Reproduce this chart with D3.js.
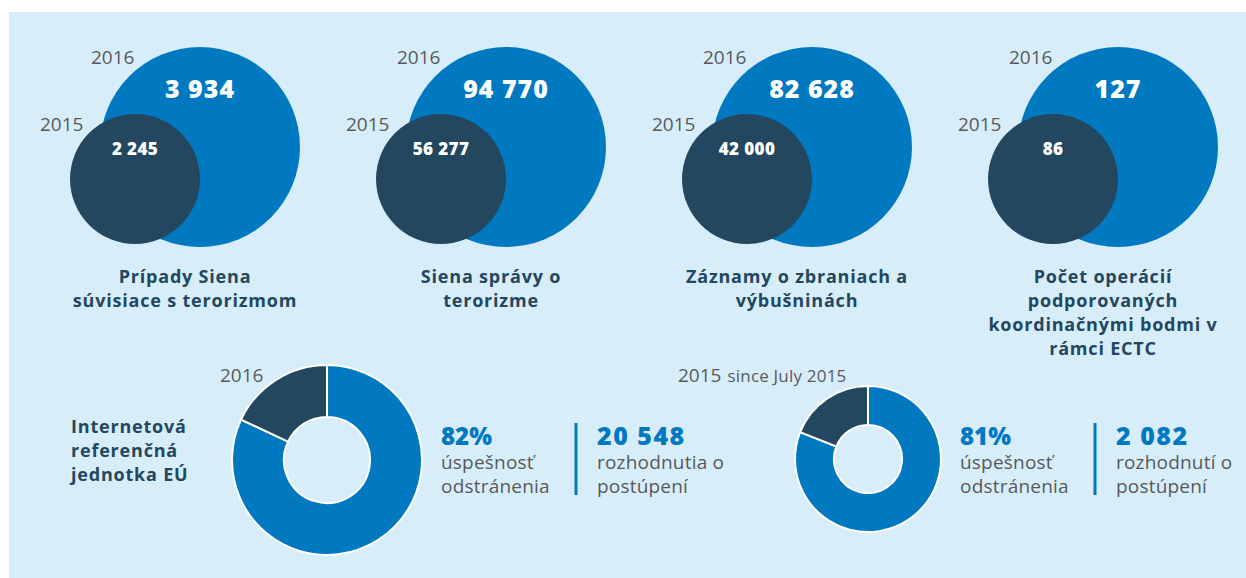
<!DOCTYPE html>
<html>
<head>
<meta charset="utf-8">
<script src="https://cdn.jsdelivr.net/npm/d3@7"></script>
<style>
  html, body { margin: 0; padding: 0; background: #fff; }
  svg { display: block; font-family: 'Open Sans', Lato, sans-serif; }
</style>
</head>
<body>
<svg id="chart" width="1246" height="578"></svg>
<script>
// bubble pairs (2015 vs 2016)
const bubbleTitles = [
  ['Prípady Siena', 'súvisiace s terorizmom'],
  ['Siena správy o', 'terorizme'],
  ['Záznamy o zbraniach a', 'výbušninách'],
  ['Počet operácií', 'podporovaných', 'koordinačnými bodmi v', 'rámci ECTC']
];
const values2016 = [3934, 94770, 82628, 127];
const values2015 = [2245, 56277, 42000, 86];
const years = ['2015', '2016'];

// internet referral unit donuts
const donutTitle = ['Internetová', 'referenčná', 'jednotka EÚ'];
const donutYears = ['2016', '2015'];
const donutYearNotes = ['', 'since July 2015'];
const removalRates = [82, 81];
const referrals = [20548, 2082];
const removalLabel = ['úspešnosť', 'odstránenia'];
const referralLabels = [['rozhodnutia o', 'postúpení'], ['rozhodnutí o', 'postúpení']];

const BLUE = '#0079c1', NAVY = '#23475f', GREY = '#58595b';

const svg = d3.select('#chart');
svg.append('rect')
  .attr('x', 9).attr('y', 12).attr('width', 1237).attr('height', 566)
  .attr('fill', '#d8edfa');

const fmt = d3.formatLocale({decimal: ',', thousands: ' ', grouping: [3], currency: ['', '']}).format(',d');

// ---- bubbles ----
const gx = d3.scalePoint().domain(d3.range(values2016.length)).range([200, 1118]);

const groups = svg.selectAll('g.bubble')
  .data(values2016.map((v, i) => ({i, v16: v, v15: values2015[i], title: bubbleTitles[i]})))
  .enter().append('g')
  .attr('class', 'bubble')
  .attr('transform', d => 'translate(' + gx(d.i) + ',147)');

groups.append('circle').attr('r', 100).attr('fill', BLUE);
groups.append('circle').attr('cx', -65).attr('cy', 32).attr('r', 65).attr('fill', NAVY);

groups.append('text')
  .attr('x', -109).attr('y', -83)
  .attr('fill', GREY).style('font-size', '19px')
  .text(years[1]);
groups.append('text')
  .attr('x', -160).attr('y', -16)
  .attr('fill', GREY).style('font-size', '19px')
  .text(years[0]);

groups.append('text')
  .attr('x', 0).attr('y', -49)
  .attr('text-anchor', 'middle')
  .attr('fill', '#fff').style('font-size', '25px').style('font-weight', 800)
  .style('letter-spacing', '1px')
  .text(d => fmt(d.v16));
groups.append('text')
  .attr('x', -65).attr('y', 8)
  .attr('text-anchor', 'middle')
  .attr('fill', '#fff').style('font-size', '17px').style('font-weight', 800)
  .style('letter-spacing', '0.4px')
  .text(d => fmt(d.v15));

groups.append('text')
  .attr('text-anchor', 'middle')
  .attr('fill', NAVY).style('font-size', '18px').style('font-weight', 700)
  .style('letter-spacing', '0.8px')
  .selectAll('tspan')
  .data(d => d.title)
  .enter().append('tspan')
  .attr('x', -15)
  .attr('y', (t, j) => 136 + j * 24)
  .text(t => t);

// ---- donuts ----
svg.append('text')
  .attr('fill', NAVY).style('font-size', '18px').style('font-weight', 700)
  .style('letter-spacing', '0.8px')
  .selectAll('tspan')
  .data(donutTitle)
  .enter().append('tspan')
  .attr('x', 71)
  .attr('y', (t, j) => 433 + j * 24)
  .text(t => t);

const donutLayout = [
  {cx: 327, cy: 460, outer: 95, inner: 43, yearX: 220},
  {cx: 868, cy: 459, outer: 73, inner: 34, yearX: 678}
];

const pie = d3.pie().sort(null).value(d => d);

removalRates.forEach((rate, i) => {
  const L = donutLayout[i];
  const g = svg.append('g').attr('transform', 'translate(' + L.cx + ',' + L.cy + ')');
  const arc = d3.arc().innerRadius(L.inner).outerRadius(L.outer);
  g.selectAll('path')
    .data(pie([rate, 100 - rate]))
    .enter().append('path')
    .attr('d', arc)
    .attr('fill', (d, j) => j === 0 ? BLUE : NAVY)
    .attr('stroke', '#fff').attr('stroke-width', 2);

  const yr = svg.append('text')
    .attr('x', L.yearX)
    .attr('y', 382)
    .attr('fill', GREY).style('font-size', '19px');
  yr.append('tspan').text(donutYears[i]);
  if (donutYearNotes[i]) {
    yr.append('tspan').attr('dx', 6).style('font-size', '17px')
      .style('letter-spacing', '0.2px').text(donutYearNotes[i]);
  }

  const tx = L.cx + L.outer + 19;
  svg.append('text')
    .attr('x', tx).attr('y', 445)
    .attr('fill', BLUE).style('font-size', '24px').style('font-weight', 800)
    .text(rate + '%');
  svg.append('text')
    .attr('fill', GREY).style('font-size', '19px').style('letter-spacing', '0.2px')
    .selectAll('tspan').data(removalLabel).enter().append('tspan')
    .attr('x', tx).attr('y', (t, j) => 469 + j * 24)
    .text(t => t);

  svg.append('line')
    .attr('x1', tx + 135).attr('x2', tx + 135)
    .attr('y1', 423).attr('y2', 495)
    .attr('stroke', BLUE).attr('stroke-width', 3);

  svg.append('text')
    .attr('x', tx + 156).attr('y', 445)
    .attr('fill', BLUE).style('font-size', '25px').style('font-weight', 800)
    .style('letter-spacing', '1.5px')
    .text(fmt(referrals[i]));
  svg.append('text')
    .attr('fill', GREY).style('font-size', '19px').style('letter-spacing', '0.2px')
    .selectAll('tspan').data(referralLabels[i]).enter().append('tspan')
    .attr('x', tx + 156).attr('y', (t, j) => 469 + j * 24)
    .text(t => t);
});
</script>
</body>
</html>
